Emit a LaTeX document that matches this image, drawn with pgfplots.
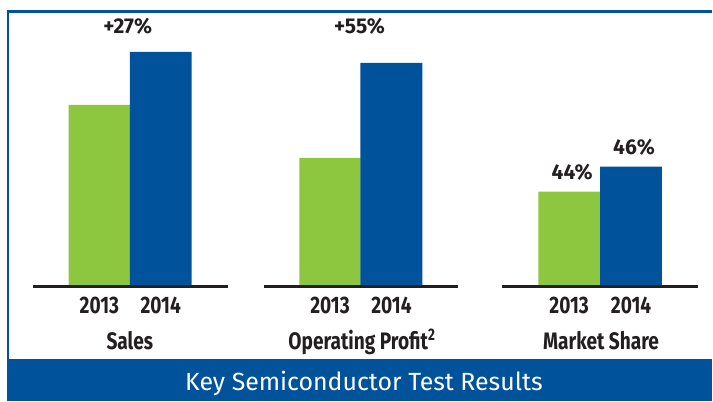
\documentclass[border=0pt]{standalone}
\usepackage{pgfplots}
\pgfplotsset{compat=1.18}
\usepackage{fontspec}
\setmainfont{Fira Sans}
\newfontfamily\condb[FakeStretch=0.8]{Fira Sans}
\newfontfamily\pctb[FakeStretch=0.98]{Fira Sans}
\definecolor{cgreen}{RGB}{141,198,63}
\definecolor{cblue}{RGB}{0,82,155}
\definecolor{ctext}{RGB}{35,31,32}
\begin{document}
\begin{tikzpicture}
\begin{axis}[x=1bp, y=1bp, xmin=0, xmax=713, ymin=-115, ymax=287,
  hide axis, clip=false, scale only axis]
% extent
\addplot[draw=none] coordinates {(0,-115) (713,287)};
% frame
\addplot[cblue, line width=2.2bp] coordinates {(713,275.5) (8,275.5) (8,-73)};
% banner
\addplot[fill=cblue, draw=none] coordinates {(7,-115) (713,-115) (713,-73) (7,-73)} -- cycle;
% bars 2013
\addplot[ybar, bar width=61.5, bar shift=0pt, fill=cgreen, draw=none]
  coordinates {(99.5,182) (330.5,129) (570,95)};
% bars 2014
\addplot[ybar, bar width=62, bar shift=0pt, fill=cblue, draw=none]
  coordinates {(161,235) (392,224) (632,120)};
% baselines
\addplot[ctext, line width=2.3bp] coordinates {(33,0) (228,0)};
\addplot[ctext, line width=2.3bp] coordinates {(264,0) (459,0)};
\addplot[ctext, line width=2.3bp] coordinates {(503,0) (699,0)};
% year labels
\begin{scope}[every node/.style={anchor=base, text=ctext, font=\condb\bfseries\fontsize{24}{26}\selectfont}]
\node at (axis cs:99.5,-27.3) {2013};
\node at (axis cs:161,-27.3) {2014};
\node at (axis cs:330.5,-27.3) {2013};
\node at (axis cs:392,-27.3) {2014};
\node at (axis cs:570,-27.3) {2013};
\node at (axis cs:632,-27.3) {2014};
\node at (axis cs:130,-63) {Sales};
\node at (axis cs:362.5,-63) {Operating Profit\textsuperscript{2}};
\node at (axis cs:602,-63) {Market Share};
\end{scope}
\begin{scope}[every node/.style={anchor=base, text=ctext, font=\pctb\bfseries\fontsize{21.5}{23}\selectfont}]
\node at (axis cs:128,253) {+27\%};
\node at (axis cs:360,253) {+55\%};
\node at (axis cs:573,107) {44\%};
\node at (axis cs:635,132) {46\%};
\end{scope}
\node[anchor=base, text=white, font=\fontsize{25}{27}\selectfont] at (axis cs:364.5,-104) {Key Semiconductor Test Results};
\end{axis}
\end{tikzpicture}
\end{document}
